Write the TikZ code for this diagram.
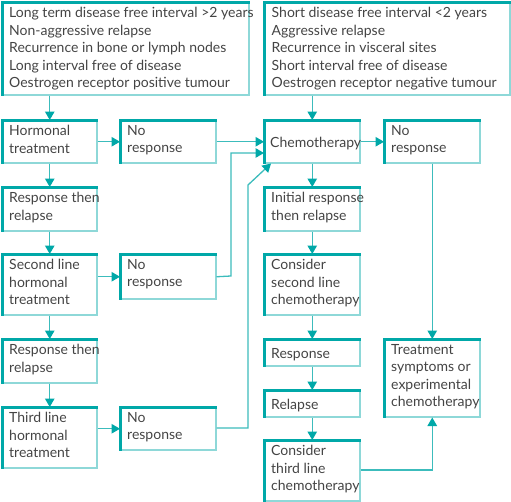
\documentclass[tikz,border=0pt]{standalone}
\usepackage{fontspec}
\setmainfont{Lato}
\usetikzlibrary{arrows.meta,calc}
\definecolor{tealD}{HTML}{00A8A8}
\definecolor{tealL}{HTML}{8ED8D8}
\definecolor{lineC}{HTML}{3CBCBC}
\definecolor{txtC}{HTML}{444444}
\tikzset{
  box/.style={draw=tealL, line width=1.5pt, inner sep=0pt, anchor=north west},
  txt/.style={text=txtC, inner sep=0pt, align=left, font=\fontsize{14}{17.5}\selectfont},
  mtxt/.style={txt, anchor=north west, execute at begin node=\rule{0pt}{13pt}},
  stxt/.style={txt, anchor=base west},
  conn/.style={draw=lineC, line width=1.3pt, -{Triangle[length=8.5pt,width=9.5pt,color=tealD]}},
}
\newcommand\mybox[5]{% name x1 y1 x2 y2
  \node[box, minimum width={#4pt-#2pt}, minimum height={#5pt-#3pt}] (#1) at (#2,#3) {};}
\begin{document}
\begin{tikzpicture}[x=1pt,y=-1pt]
\useasboundingbox (0,0) rectangle (511,501);
\mybox{top1}{2}{2}{248}{94}
\mybox{top2}{264}{2}{509}{94}
\mybox{hor}{2}{120}{96}{162}
\mybox{nra}{120}{120}{215}{162}
\mybox{chemo}{264}{120}{359}{162}
\mybox{nrr}{384}{120}{479}{162}
\mybox{rra}{2}{187}{96}{230}
\mybox{sec}{2}{254}{96}{314}
\mybox{nrb}{120}{254}{215}{298}
\mybox{init}{264}{187}{359}{230}
\mybox{cona}{264}{254}{359}{314}
\mybox{rrb}{2}{339}{96}{382}
\mybox{third}{2}{407}{96}{467}
\mybox{nrc}{120}{407}{215}{449}
\mybox{resp}{264}{339}{359}{365}
\mybox{rel}{264}{390}{359}{416}
\mybox{conb}{264}{440}{359}{500}
\mybox{treat}{384}{339}{479}{416}
\foreach \n in {top1,top2,hor,nra,chemo,nrr,rra,sec,nrb,init,cona,rrb,third,nrc,resp,rel,conb,treat}{
  \draw[tealD, line width=3pt] (\n.south west) -- (\n.north west) -- (\n.north east);
}
% texts
\node[mtxt] (t1) at ($(top1.north west)+(7,5)$) {Long term disease free interval >2 years\\Non-aggressive relapse\\Recurrence in bone or lymph nodes\\Long interval free of disease\\Oestrogen receptor positive tumour};
\node[mtxt] (t2) at ($(top2.north west)+(7.5,5)$) {Short disease free interval <2 years\\Aggressive relapse\\Recurrence in visceral sites\\Short interval free of disease\\Oestrogen receptor negative tumour};
\node[mtxt] (t3) at ($(hor.north west)+(7,5)$) {Hormonal\\treatment};
\node[mtxt] (t4) at ($(nra.north west)+(7,5)$) {No\\response};
\node[stxt] (t5) at ($(chemo.west)+(6,5.5)$) {Chemotherapy};
\node[mtxt] (t6) at ($(nrr.north west)+(7,5)$) {No\\response};
\node[mtxt] (t7) at ($(rra.north west)+(7,5)$) {Response then\\relapse};
\node[mtxt] (t8) at ($(sec.north west)+(7,5)$) {Second line\\hormonal\\treatment};
\node[mtxt] (t9) at ($(nrb.north west)+(7,5)$) {No\\response};
\node[mtxt] (t10) at ($(init.north west)+(7,5)$) {Initial response\\then relapse};
\node[mtxt] (t11) at ($(cona.north west)+(7,5)$) {Consider\\second line\\chemotherapy};
\node[mtxt] (t12) at ($(rrb.north west)+(7,5)$) {Response then\\relapse};
\node[mtxt] (t13) at ($(third.north west)+(7,5)$) {Third line\\hormonal\\treatment};
\node[mtxt] (t14) at ($(nrc.north west)+(7,5)$) {No\\response};
\node[stxt] (t15) at ($(resp.west)+(7,5.5)$) {Response};
\node[stxt] (t16) at ($(rel.west)+(7,5.5)$) {Relapse};
\node[mtxt] (t17) at ($(conb.north west)+(7,5)$) {Consider\\third line\\chemotherapy};
\node[mtxt] (t18) at ($(treat.north west)+(7,5)$) {Treatment\\symptoms or\\experimental\\chemotherapy};
% connectors
\coordinate (c1) at (231,276);
\coordinate (c2) at (248,428);
\coordinate (c3) at (248,185);
\draw[conn] (top1.south -| hor.north) -- (hor.north);
\draw[conn] (top2.south -| chemo.north) -- (chemo.north);
\draw[conn] (hor.east) -- (nra.west);
\draw[conn] (nra.east) -- (chemo.west);
\draw[conn] (nrb.east) -- (c1) -- (c1 |- 0,153) -- (chemo.west |- 0,153);
\draw[conn] (nrc.east |- c2) -- (c2) -- (c3) -- ($(chemo.south west)+(7,0)$);
\draw[conn] (chemo.east) -- (nrr.west);
\draw[conn] (nrr.south) -- (treat.north);
\draw[conn] (chemo.south) -- (init.north);
\draw[conn] (init.south) -- (cona.north);
\draw[conn] (cona.south) -- (resp.north);
\draw[conn] (resp.south) -- (rel.north);
\draw[conn] (rel.south) -- (conb.north);
\draw[conn] (conb.east |- 0,470) -- (treat.south |- 0,470) -- (treat.south);
\draw[conn] (hor.south) -- (rra.north);
\draw[conn] (rra.south) -- (sec.north);
\draw[conn] (sec.south) -- (rrb.north);
\draw[conn] (rrb.south) -- (third.north);
\draw[conn] (sec.east |- nrb.east) -- (nrb.west);
\draw[conn] (third.east |- nrc.east) -- (nrc.west);
\end{tikzpicture}
\end{document}
